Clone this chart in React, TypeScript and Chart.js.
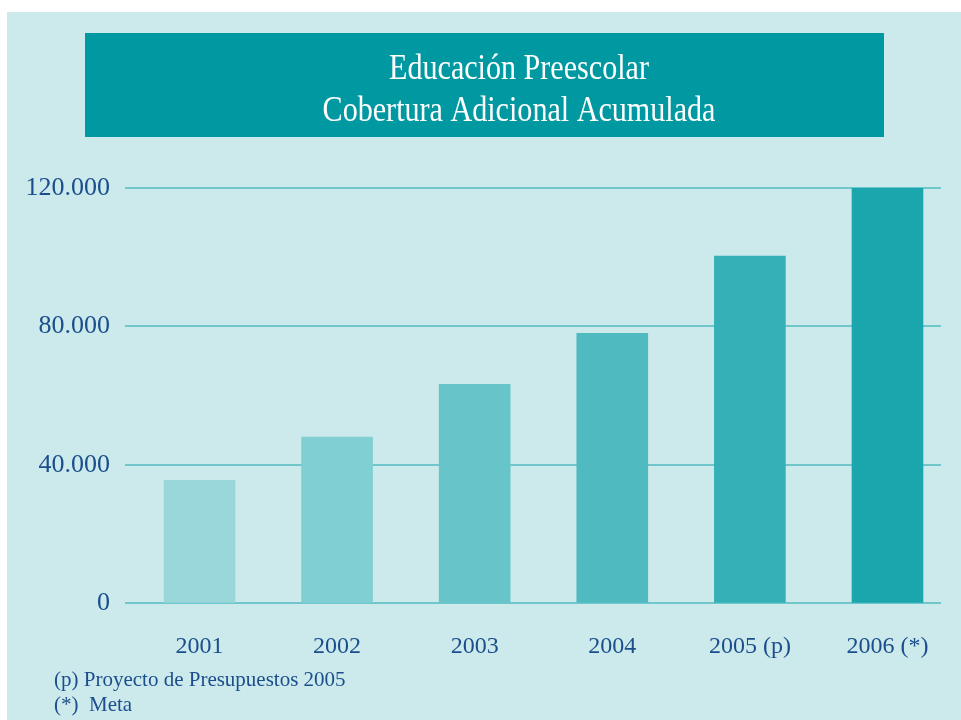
import React, { useEffect, useRef } from "react";
import { Chart, registerables } from "chart.js";

Chart.register(...registerables);

const categories = ["2001", "2002", "2003", "2004", "2005 (p)", "2006 (*)"];
const coverage = [35500, 48000, 63300, 78000, 100300, 120000];
const barColors = ["#9ad7da", "#80cfd2", "#67c5c9", "#4fbac0", "#35b0b6", "#1ba5ac"];
const yTicks = [0, 40000, 80000, 120000];
const titleLines = ["Educación Preescolar", "Cobertura Adicional Acumulada"];
const footnotes = ["(p) Proyecto de Presupuestos 2005", "(*)\u00a0\u00a0Meta"];

const TEXT_BLUE = "#1b4e8c";
const SERIF = "'Liberation Serif', 'Times New Roman', serif";

const fmt = (v: number) => String(v).replace(/\B(?=(\d{3})+(?!\d))/g, ".");

const backdrop = {
  id: "backdrop",
  afterLayout(chart: any) {
    const tb = chart.titleBlock;
    if (!tb) return;
    if (!tb.__condensed) {
      const orig = tb.draw.bind(tb);
      tb.draw = (...args: any[]) => {
        const ctx = chart.ctx;
        const cx = (tb.left + tb.right) / 2;
        ctx.save();
        ctx.translate(cx, 0);
        ctx.scale(0.86, 1);
        ctx.translate(-cx, 0);
        orig(...args);
        ctx.restore();
      };
      tb.__condensed = true;
    }
    tb.left = 97;
    tb.right = 941;
  },
  beforeDraw(chart: any) {
    const { ctx } = chart;
    ctx.save();
    ctx.fillStyle = "#cceaec";
    ctx.fillRect(7, 12, 954, 708);
    ctx.fillStyle = "#0099a1";
    ctx.fillRect(85, 33, 799, 104);
    ctx.restore();
  },
};

export default function App() {
  const ref = useRef<HTMLCanvasElement | null>(null);

  useEffect(() => {
    if (!ref.current) return;
    const chart = new Chart(ref.current, {
      type: "bar",
      data: {
        datasets: [
          {
            data: coverage.map((v, i) => ({ x: i, y: v })),
            backgroundColor: barColors,
            borderWidth: 0,
            barThickness: 71,
          },
        ],
      },
      options: {
        animation: false,
        responsive: false,
        layout: { padding: { left: 10, right: 20, top: 0, bottom: 0 } },
        plugins: {
          legend: { display: false },
          tooltip: { enabled: false },
          title: {
            display: true,
            text: titleLines,
            color: "#ffffff",
            font: { family: SERIF, size: 35, weight: "normal", lineHeight: "42px" },
            padding: { top: 49, bottom: 55 },
          },
        },
        scales: {
          x: {
            type: "linear",
            offset: false,
            min: -0.5414,
            max: 5.389,
            grid: { display: false },
            border: { display: false },
            ticks: {
              stepSize: 1,
              includeBounds: false,
              autoSkip: false,
              maxRotation: 0,
              color: TEXT_BLUE,
              font: { family: SERIF, size: 24 },
              padding: 21,
              callback: (v: any) => (Number.isInteger(v) ? categories[v] ?? "" : ""),
            },
            afterFit: (s: any) => {
              s.height = 116.7;
            },
          },
          y: {
            min: 0,
            max: 120000,
            grid: { color: "#6fc7cb", lineWidth: 2, drawTicks: false },
            border: { display: false },
            afterBuildTicks: (s: any) => {
              s.ticks = yTicks.map((value) => ({ value }));
            },
            ticks: {
              color: TEXT_BLUE,
              font: { family: SERIF, size: 26 },
              padding: 15,
              callback: (v: any) => fmt(Number(v)),
            },
            afterFit: (s: any) => {
              s.width = 115;
            },
          },
        },
      },
      plugins: [backdrop],
    });
    return () => chart.destroy();
  }, []);

  return (
    <div style={{ position: "absolute", left: 0, top: 0, width: 961, height: 720 }}>
      <canvas ref={ref} width={961} height={720} style={{ display: "block" }} />
      <div
        style={{
          position: "absolute",
          left: 54,
          top: 667,
          fontFamily: SERIF,
          fontSize: 21,
          lineHeight: "24.5px",
          color: TEXT_BLUE,
          whiteSpace: "pre",
        }}
      >
        {footnotes.map((t) => (
          <div key={t}>{t}</div>
        ))}
      </div>
    </div>
  );
}
